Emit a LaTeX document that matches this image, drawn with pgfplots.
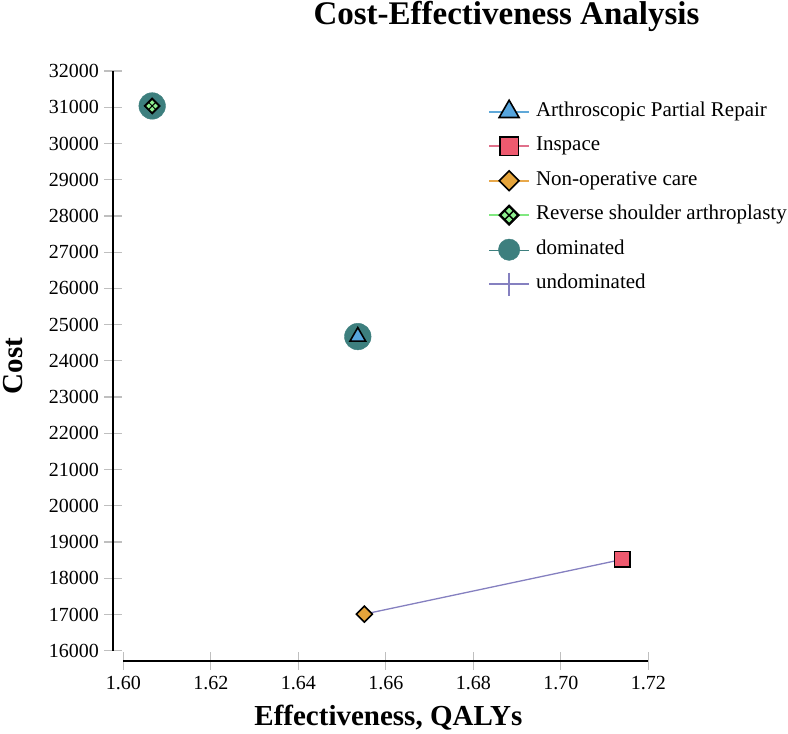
\documentclass[border=0pt]{standalone}
\usepackage{pgfplots}
\pgfplotsset{compat=1.18}
\usepackage{fontspec}
\setmainfont{Liberation Serif}
\definecolor{aprfill}{HTML}{56A5DD}
\definecolor{aprline}{HTML}{5FA8D8}
\definecolor{insfill}{HTML}{EE5A6F}
\definecolor{insline}{HTML}{E0708A}
\definecolor{nonfill}{HTML}{E5A43B}
\definecolor{nonline}{HTML}{E8A84A}
\definecolor{rsafill}{HTML}{8EF08E}
\definecolor{rsaline}{HTML}{80E880}
\definecolor{domcol}{HTML}{3D7F7E}
\definecolor{undomcol}{HTML}{8580C0}
\newcommand\rsadot[2]{%
  \pgfpathmoveto{\pgfpoint{#1*\pgfplotmarksize}{(#2+0.3)*\pgfplotmarksize}}%
  \pgfpathlineto{\pgfpoint{(#1+0.3)*\pgfplotmarksize}{#2*\pgfplotmarksize}}%
  \pgfpathlineto{\pgfpoint{#1*\pgfplotmarksize}{(#2-0.3)*\pgfplotmarksize}}%
  \pgfpathlineto{\pgfpoint{(#1-0.3)*\pgfplotmarksize}{#2*\pgfplotmarksize}}%
  \pgfpathclose}
\pgfdeclareplotmark{rsa}{%
  \pgfpathmoveto{\pgfqpoint{0pt}{\pgfplotmarksize}}%
  \pgfpathlineto{\pgfqpoint{\pgfplotmarksize}{0pt}}%
  \pgfpathlineto{\pgfqpoint{0pt}{-\pgfplotmarksize}}%
  \pgfpathlineto{\pgfqpoint{-\pgfplotmarksize}{0pt}}%
  \pgfpathclose
  \pgfsetfillcolor{black}%
  \pgfusepathqfillstroke
  \pgfsetfillcolor{rsafill}%
  \rsadot{0}{0.42}\rsadot{0.42}{0}\rsadot{0}{-0.42}\rsadot{-0.42}{0}%
  \pgfusepathqfill
}
\begin{document}
\begin{tikzpicture}
\path[use as bounding box] (-123.3pt,-83.3pt) rectangle (664.7pt,650.7pt);
\begin{axis}[
  at={(0pt,0pt)}, anchor=south west,
  scale only axis, width=525pt, height=579.7pt,
  xmin=1.6, xmax=1.72, ymin=16000, ymax=32000,
  xtick={1.60,1.62,1.64,1.66,1.68,1.70,1.72},
  ytick={16000,17000,18000,19000,20000,21000,22000,23000,24000,25000,26000,27000,28000,29000,30000,31000,32000},
  axis lines=left,
  axis line shift=10pt,
  axis line style={-, line width=1.8pt, black},
  tick align=center,
  major tick length=18pt,
  major tick style={line width=1.3pt, color=black!25},
  tick label style={font=\fontsize{20}{24}\selectfont},
  /pgf/number format/assume math mode=true,
  scaled ticks=false,
  xticklabel style={yshift=-3pt, /pgf/number format/.cd, fixed, fixed zerofill, precision=2},
  yticklabel style={xshift=-2pt, /pgf/number format/.cd, 1000 sep={}},
  clip=false,
  xlabel={Effectiveness, QALYs},
  xlabel style={font=\bfseries\fontsize{29}{34}\selectfont, at={([yshift=-75pt]axis description cs:0.505,0)}, anchor=base},
  ylabel={Cost},
  ylabel style={font=\bfseries\fontsize{29}{34}\selectfont, inner sep=0pt, at={([xshift=-110pt]axis description cs:0,0.491)}, anchor=center},
  legend style={at={(0.6947,0.9465)}, anchor=north west, draw=none, fill=none, inner sep=0pt,
    font=\fontsize{21}{25}\selectfont, row sep=15.5pt,
    nodes={text height=14pt, text depth=5pt, inner xsep=6pt, inner ysep=0pt}},
  legend cell align=left,
  legend image code/.code={\path (0pt,0pt) -- (40pt,0pt); \draw[overlay, mark repeat=2, mark phase=2] plot coordinates {(0pt,0pt) (20pt,0pt) (40pt,0pt)};},
]
\addplot[forget plot, only marks, mark=*, mark size=13.3pt, color=domcol] coordinates {(1.6066,31035) (1.6536,24670)};
\addplot[forget plot, color=undomcol, line width=1.3pt, mark=none] coordinates {(1.6551,17010) (1.7141,18520)};
\addplot[forget plot, only marks, mark=triangle*, mark size=9pt, mark options={fill=aprfill, draw=black, line width=1.6pt}] coordinates {(1.6536,24670)};
\addplot[forget plot, only marks, mark=square*, mark size=7.8pt, mark options={fill=insfill, draw=black, line width=1.6pt}] coordinates {(1.7141,18520)};
\addplot[forget plot, only marks, mark=square*, mark size=5.6pt, mark options={rotate=45, fill=nonfill, draw=black, line width=1.6pt}] coordinates {(1.6551,17010)};
\addplot[forget plot, only marks, mark=rsa, mark size=8pt, mark options={draw=black, line width=1pt}] coordinates {(1.6066,31035)};
\addlegendimage{color=aprline, line width=1.8pt, mark=triangle*, mark size=11.5pt, mark options={fill=aprfill, draw=black, line width=1.6pt}}
\addlegendentry{Arthroscopic Partial Repair}
\addlegendimage{color=insline, line width=1.8pt, mark=square*, mark size=9.2pt, mark options={fill=insfill, draw=black, line width=1.6pt}}
\addlegendentry{Inspace}
\addlegendimage{color=nonline, line width=1.8pt, mark=square*, mark size=7pt, mark options={rotate=45, fill=nonfill, draw=black, line width=1.6pt}}
\addlegendentry{Non-operative care}
\addlegendimage{color=rsaline, line width=1.8pt, mark=rsa, mark size=10.2pt, mark options={draw=black, line width=1pt}}
\addlegendentry{Reverse shoulder arthroplasty}
\addlegendimage{color=domcol, mark=*, mark size=10.7pt, legend image code/.code={\path (0pt,0pt) -- (40pt,0pt); \draw[overlay] plot coordinates {(20pt,0pt)};}}
\addlegendentry{dominated}
\addlegendimage{color=undomcol, line width=1.5pt, mark=|, mark size=11.5pt}
\addlegendentry{undominated}
\end{axis}
\node[anchor=base west, font=\bfseries\fontsize{33}{38}\selectfont] at (186.7pt,625.7pt) {Cost-Effectiveness Analysis};
\end{tikzpicture}
\end{document}
